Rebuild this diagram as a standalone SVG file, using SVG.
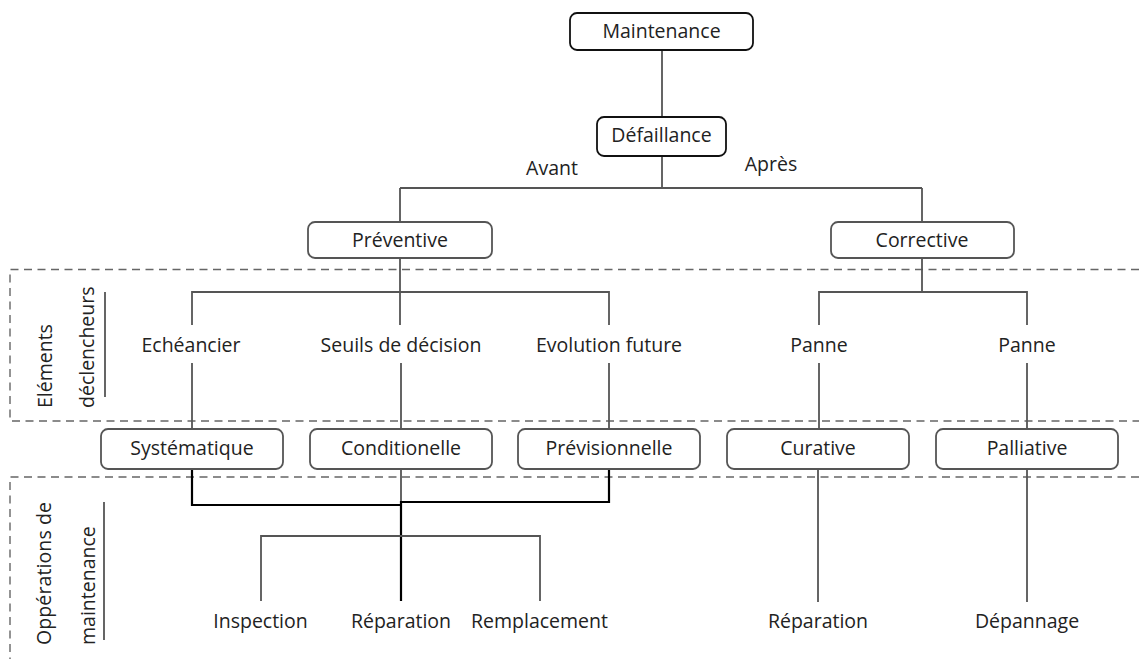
<svg xmlns="http://www.w3.org/2000/svg" width="1139" height="659" viewBox="0 0 1139 659">
<style>
text{font-family:"Open Sans","DejaVu Sans",sans-serif;font-size:19.5px;fill:#222;text-anchor:middle}
.lab{text-anchor:start}
.b1{fill:#fff;stroke:#111;stroke-width:1.8}
.b2{fill:#fff;stroke:#555;stroke-width:1.8}
.c{fill:none;stroke:#555;stroke-width:1.8}
.k{fill:none;stroke:#000;stroke-width:2.2}
.d{fill:none;stroke:#666;stroke-width:1.4;stroke-dasharray:8 5.5}
.s{fill:none;stroke:#555;stroke-width:1.8}
</style>
<rect width="1139" height="659" fill="#fff"/>
<g id="regions">
<path class="d" d="M1139 269.5H10V421H1139"/>
<path class="d" d="M1139 477H10V659"/>
<line class="s" x1="105" y1="292" x2="105" y2="397"/>
<line class="s" x1="104" y1="502" x2="104" y2="640"/>
<text class="lab" transform="translate(52 408) rotate(-90)">Eléments</text>
<text class="lab" transform="translate(94 408) rotate(-90)">déclencheurs</text>
<text class="lab" transform="translate(51 645) rotate(-90)" textLength="143" lengthAdjust="spacing">Oppérations de</text>
<text class="lab" transform="translate(95 645) rotate(-90)">maintenance</text>
</g>
<g id="connectors">
<path class="c" d="M662 50V117M662 156V188M400 188H922M400 188V222M922 188V221"/>
<path class="c" d="M400 258V325M192 325V292H609V325"/>
<path class="c" d="M192 363V429M401 363V429M609 363V429"/>
<path class="c" d="M922 259V292M819 325V292H1027V325"/>
<path class="c" d="M819 363V429M1027 363V429"/>
<path class="c" d="M401 469V502"/>
<path class="k" d="M192 469V505H401M609 469V502H401V601"/>
<path class="c" d="M261 601V536H540V601"/>
<path class="c" d="M818 469V602M1027 469V602"/>
<text x="552" y="175">Avant</text>
<text x="771" y="171">Après</text>
</g>
<g id="n-maintenance"><rect class="b1" x="570" y="13" width="183" height="37" rx="7"/><text x="661.5" y="38">Maintenance</text></g>
<g id="n-defaillance"><rect class="b1" x="597" y="117" width="129" height="39" rx="7"/><text x="661.5" y="142">Défaillance</text></g>
<g id="n-preventive"><rect class="b2" x="308" y="222" width="184" height="36" rx="7"/><text x="400" y="247">Préventive</text></g>
<g id="n-corrective"><rect class="b2" x="831" y="222" width="183" height="36" rx="7"/><text x="922" y="247">Corrective</text></g>
<g id="n-echeancier"><text x="191" y="352">Echéancier</text></g>
<g id="n-seuils"><text x="401" y="352">Seuils de décision</text></g>
<g id="n-evolution"><text x="609" y="352">Evolution future</text></g>
<g id="n-panne1"><text x="819" y="352">Panne</text></g>
<g id="n-panne2"><text x="1027" y="352">Panne</text></g>
<g id="n-systematique"><rect class="b2" x="101" y="429" width="182" height="40" rx="7"/><text x="192" y="455">Systématique</text></g>
<g id="n-conditionelle"><rect class="b2" x="310" y="429" width="182" height="40" rx="7"/><text x="401" y="455">Conditionelle</text></g>
<g id="n-previsionnelle"><rect class="b2" x="518" y="429" width="182" height="40" rx="7"/><text x="609" y="455">Prévisionnelle</text></g>
<g id="n-curative"><rect class="b2" x="727" y="429" width="182" height="40" rx="7"/><text x="818" y="455">Curative</text></g>
<g id="n-palliative"><rect class="b2" x="936" y="429" width="182" height="40" rx="7"/><text x="1027" y="455">Palliative</text></g>
<g id="n-inspection"><text x="260.5" y="628">Inspection</text></g>
<g id="n-reparation1"><text x="401" y="628">Réparation</text></g>
<g id="n-remplacement"><text x="539.5" y="628">Remplacement</text></g>
<g id="n-reparation2"><text x="818" y="628">Réparation</text></g>
<g id="n-depannage"><text x="1027" y="628">Dépannage</text></g>
</svg>
